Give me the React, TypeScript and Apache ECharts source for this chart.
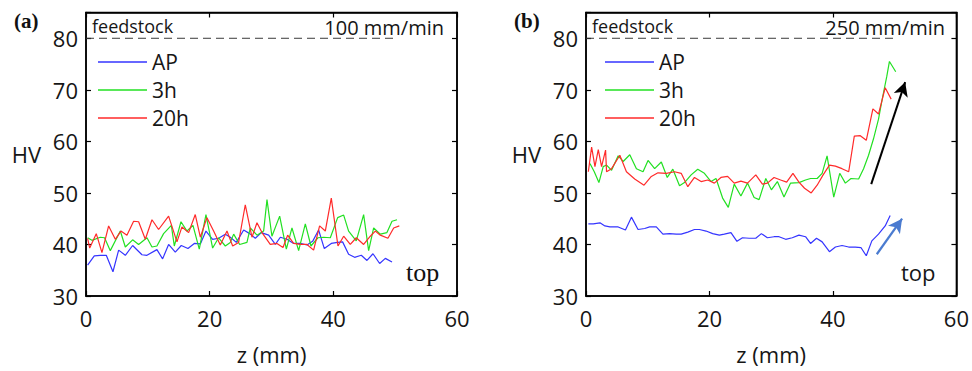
import React, { useEffect, useRef } from "react";
import * as echarts from "echarts";

// ---------- data (z in mm, hardness in HV) ----------
const xTicks = [0, 20, 40, 60];
const yTicks = [30, 40, 50, 60, 70, 80];
const feedstockLine: [number, number][] = [[0, 80], [50, 80]];

const a_AP: [number, number][] = [
  [0.26, 36.0], [1.34, 37.8], [2.31, 37.9], [3.28, 37.9], [4.36, 34.7], [5.28, 38.9], [6.36, 37.9],
  [7.54, 39.8], [9.05, 38.0], [9.86, 37.9], [11.47, 39.0], [12.39, 37.2], [13.36, 40.0], [14.44, 38.5],
  [15.41, 39.8], [16.49, 39.2], [17.52, 40.2], [18.49, 40.1], [19.4, 42.6], [20.48, 41.0], [21.45, 41.2],
  [22.53, 42.0], [23.34, 41.4], [24.31, 40.4], [25.5, 42.8], [26.47, 42.1], [27.38, 41.2], [28.35, 42.3],
  [29.54, 41.8], [30.62, 40.0], [31.43, 41.4], [32.5, 41.0], [33.58, 40.2], [34.66, 40.2], [35.74, 39.9],
  [36.65, 40.6], [37.62, 42.8], [38.54, 39.2], [39.67, 40.2], [40.69, 40.4], [41.5, 40.5], [42.47, 38.1],
  [43.44, 37.5], [44.52, 37.9], [45.44, 36.9], [46.41, 38.2], [47.49, 36.3], [48.41, 37.3], [49.49, 36.6],
];
const a_3h: [number, number][] = [
  [0.26, 41.3], [0.96, 40.8], [2.31, 41.4], [3.0, 41.3], [3.93, 38.8], [5.55, 42.6], [6.36, 39.5],
  [7.54, 40.9], [8.51, 40.0], [9.86, 41.3], [10.67, 39.5], [11.47, 39.7], [12.55, 42.1], [13.8, 43.7],
  [14.28, 39.7], [15.36, 44.4], [16.33, 42.6], [17.3, 43.7], [18.32, 39.1], [19.4, 45.8], [20.48, 39.3],
  [21.45, 41.3], [22.53, 39.7], [23.34, 40.4], [23.88, 42.0], [24.85, 40.0], [26.03, 40.4], [26.57, 43.2],
  [27.65, 41.8], [28.73, 42.6], [29.27, 48.7], [30.07, 41.6], [31.32, 45.5], [32.4, 39.1], [33.31, 43.2],
  [34.39, 38.8], [35.47, 44.0], [36.38, 39.7], [37.51, 41.3], [38.43, 41.4], [39.51, 41.3], [40.7, 45.2],
  [41.67, 45.7], [42.47, 42.6], [43.71, 40.7], [44.9, 45.8], [45.71, 38.8], [46.52, 43.2], [47.6, 42.0],
  [48.67, 42.3], [49.49, 44.5], [50.3, 44.8],
];
const a_20h: [number, number][] = [
  [0.26, 41.2], [0.6, 39.3], [1.66, 42.1], [2.58, 38.4], [3.66, 43.6], [4.74, 41.0], [5.65, 42.6],
  [6.62, 41.8], [7.7, 44.5], [8.51, 44.4], [9.59, 41.0], [10.67, 44.8], [11.74, 42.9], [13.36, 45.5],
  [14.71, 40.5], [15.52, 43.4], [16.6, 42.3], [17.67, 45.8], [18.49, 41.4], [19.56, 45.2], [20.64, 42.6],
  [21.72, 39.9], [22.8, 42.6], [23.72, 39.7], [24.68, 40.4], [25.76, 47.7], [26.84, 41.4], [27.65, 44.2],
  [28.46, 42.3], [29.8, 40.0], [30.88, 40.2], [31.86, 39.4], [32.61, 41.8], [33.58, 40.2], [34.66, 40.0],
  [35.74, 40.0], [36.81, 38.9], [37.78, 43.6], [38.7, 42.6], [39.67, 49.0], [40.75, 39.7], [41.67, 41.6],
  [42.74, 40.0], [43.71, 41.3], [44.9, 40.0], [45.98, 41.6], [46.79, 42.6], [47.6, 41.8], [48.83, 41.2],
  [49.76, 43.2], [50.67, 43.6],
];

const b_AP: [number, number][] = [
  [0.38, 44.0], [1.18, 44.0], [2.26, 44.2], [3.06, 43.6], [3.87, 43.4], [5.21, 43.4], [6.39, 42.8],
  [7.36, 45.3], [8.43, 42.9], [9.51, 43.1], [10.31, 43.4], [11.39, 43.4], [12.46, 42.0], [13.54, 42.1],
  [14.61, 42.0], [15.42, 42.0], [16.49, 42.4], [17.57, 42.9], [18.37, 42.9], [19.45, 42.6], [20.52, 42.1],
  [21.6, 41.8], [22.4, 42.0], [23.48, 42.3], [24.45, 40.6], [25.35, 41.3], [26.43, 41.2], [27.5, 41.2],
  [28.41, 42.1], [29.38, 41.3], [30.46, 41.5], [31.27, 41.5], [32.34, 41.0], [33.41, 41.3], [34.49, 41.8],
  [35.56, 41.5], [36.37, 40.2], [37.34, 41.2], [38.25, 40.5], [39.43, 38.6], [40.4, 39.5], [41.47, 39.8],
  [42.55, 39.5], [43.62, 39.5], [44.53, 39.4], [45.4, 37.8], [46.3, 40.7], [47.38, 42.0], [48.46, 43.6],
  [49.27, 45.6],
];
const b_3h: [number, number][] = [
  [0.64, 55.7], [1.34, 54.1], [2.09, 52.0], [2.79, 55.1], [3.33, 55.4], [4.14, 54.4], [5.21, 57.2],
  [6.02, 56.1], [7.09, 57.4], [8.17, 54.7], [9.24, 54.1], [10.05, 56.3], [11.12, 54.7], [12.2, 56.0],
  [13.16, 53.0], [14.07, 54.6], [15.15, 51.4], [15.95, 52.0], [17.03, 53.5], [18.1, 54.6], [19.18, 53.8],
  [20.26, 52.2], [21.06, 52.8], [22.13, 49.0], [23.05, 47.2], [24.01, 51.7], [25.09, 49.4], [26.16, 51.9],
  [27.23, 49.1], [28.04, 48.7], [29.12, 52.8], [30.03, 50.6], [31.0, 52.2], [32.07, 49.2], [33.14, 51.9],
  [34.49, 52.0], [35.56, 52.5], [36.37, 52.8], [37.44, 52.8], [38.25, 53.8], [39.05, 57.2], [40.13, 49.2],
  [41.1, 53.8], [42.01, 51.9], [42.92, 52.8], [44.16, 52.7], [44.96, 54.7], [45.77, 57.3], [46.57, 60.5],
  [47.38, 64.3], [48.08, 68.8], [48.72, 72.6], [49.15, 75.5], [50.17, 73.5],
];
const b_20h: [number, number][] = [
  [0.38, 54.1], [0.91, 58.9], [1.45, 55.1], [1.99, 58.4], [2.52, 55.1], [3.17, 58.3], [3.33, 54.1],
  [4.14, 54.7], [5.48, 57.3], [6.55, 54.1], [7.89, 52.7], [9.4, 51.5], [10.58, 53.2], [11.66, 53.9],
  [13.0, 53.8], [14.34, 54.1], [15.42, 53.8], [16.49, 51.2], [17.57, 53.0], [18.64, 52.2], [19.72, 52.5],
  [20.79, 51.9], [21.86, 53.0], [22.94, 53.2], [24.01, 51.9], [25.09, 52.3], [26.16, 51.9], [27.5, 53.5],
  [28.58, 51.7], [29.38, 51.9], [30.46, 53.0], [31.53, 52.5], [32.5, 52.1], [33.52, 53.8], [34.49, 52.1],
  [35.4, 50.9], [36.48, 50.0], [37.44, 51.5], [38.41, 53.5], [39.43, 55.4], [40.4, 55.2], [41.47, 54.7],
  [42.55, 54.1], [43.46, 61.0], [44.43, 61.1], [45.4, 60.2], [46.47, 66.3], [47.38, 65.3], [48.46, 70.4],
  [49.43, 68.2],
];

const blackArrow: [number, number][] = [[46.2, 51.7], [51.7, 71.5]];
const blueArrow: [number, number][] = [[47.1, 38.1], [51.2, 45.0]];

const seriesNames = ["AP", "3h", "20h"];
const seriesColors = ["#3535ff", "#22e022", "#ff2a2a"];
const panelLabels = ["(a)", "(b)"];
const speedLabels = ["100 mm/min", "250 mm/min"];

// ---------- layout ----------
const FONT = "'Open Sans', 'Noto Sans', sans-serif";
const SERIF = "'Liberation Serif', 'Times New Roman', serif";
const TXT = "#161616";
const grids = [
  { left: 86, top: 12.5, width: 371, height: 286.5 },
  { left: 586, top: 12.5, width: 372, height: 286.5 },
];

const tickStyle = { show: true, inside: true, length: 5, lineStyle: { color: "#000", width: 1.2 } };
const lineStyleAxis = { show: true, onZero: false, lineStyle: { color: "#000", width: 1.5 } };

function makeAxesX(gi: number) {
  const common = {
    gridIndex: gi,
    type: "value" as const,
    min: 0,
    max: 60,
    interval: 20,
    splitLine: { show: false },
    axisLine: lineStyleAxis,
    axisTick: tickStyle,
  };
  return [
    {
      ...common,
      position: "bottom",
      name: "z (mm)",
      nameLocation: "middle",
      nameGap: 46,
      nameTextStyle: { fontFamily: FONT, fontSize: 22, color: TXT, lineHeight: 24 },
      axisLabel: {
        fontFamily: FONT, fontSize: 22, color: TXT, margin: 11,
        formatter: (v: number) => (xTicks.includes(v) ? String(v) : ""),
      },
    },
    { ...common, position: "top", axisLabel: { show: false } },
  ];
}
function makeAxesY(gi: number) {
  const common = {
    gridIndex: gi,
    type: "value" as const,
    min: 30,
    max: 85,
    interval: 10,
    splitLine: { show: false },
    axisLine: lineStyleAxis,
    axisTick: tickStyle,
  };
  return [
    {
      ...common,
      position: "left",
      name: "HV",
      nameLocation: "middle",
      nameRotate: 0,
      nameGap: 45,
      nameTextStyle: { fontFamily: FONT, fontSize: 22, color: TXT, padding: [8, 0, 0, 0] },
      axisLabel: {
        fontFamily: FONT, fontSize: 22, color: TXT, margin: 8,
        formatter: (v: number) => (yTicks.includes(v) ? String(v) : ""),
      },
    },
    { ...common, position: "right", axisLabel: { show: false } },
  ];
}

function lineSeries(name: string, color: string, data: [number, number][], axis: number) {
  return {
    type: "line",
    name,
    data,
    xAxisIndex: axis,
    yAxisIndex: axis,
    showSymbol: false,
    symbol: "none",
    lineStyle: { color, width: 1.2 },
    itemStyle: { color },
    silent: true,
    z: 3,
  };
}

export default function App() {
  const ref = useRef<HTMLDivElement>(null);
  useEffect(() => {
    if (!ref.current) return;
    const chart = echarts.init(ref.current, undefined, { renderer: "svg" });
    const dataA = [a_AP, a_3h, a_20h];
    const dataB = [b_AP, b_3h, b_20h];
    const series: any[] = [];
    seriesNames.forEach((n, i) => series.push(lineSeries(n, seriesColors[i], dataA[i], 0)));
    seriesNames.forEach((n, i) => series.push(lineSeries(n, seriesColors[i], dataB[i], 2)));
    // feedstock reference line: bound to the top/right axes (same scales) so those axes are drawn too
    [1, 3].forEach((ax) => {
      series.push({
        type: "line",
        name: "feedstock",
        data: feedstockLine,
        xAxisIndex: ax,
        yAxisIndex: ax,
        showSymbol: false,
        symbol: "none",
        silent: true,
        lineStyle: { color: "#3a3a3a", width: 1, type: [8, 5] },
        z: 2,
        markLine:
          ax === 3
            ? {
                silent: true,
                symbol: ["none", "arrow"],
                symbolSize: [11, 14],
                label: { show: false },
                animation: false,
                data: [
                  [
                    { coord: blackArrow[0], lineStyle: { color: "#000", width: 2, type: "solid" } },
                    { coord: blackArrow[1] },
                  ],
                  [
                    { coord: blueArrow[0], lineStyle: { color: "#4a7bd0", width: 2.2, type: "solid" } },
                    { coord: blueArrow[1] },
                  ],
                ],
              }
            : undefined,
      });
    });

    const legendCommon = {
      orient: "vertical",
      top: 48,
      padding: 0,
      itemGap: 0,
      itemWidth: 49,
      itemHeight: 1.4,
      icon: "rect",
      data: seriesNames,
      selectedMode: false,
      textStyle: { fontFamily: FONT, fontSize: 21, color: TXT, lineHeight: 28 },
    };

    const textEls: any[] = [];
    grids.forEach((g, i) => {
      textEls.push({
        type: "text",
        left: i === 0 ? 14 : 514,
        top: 10,
        style: { text: panelLabels[i], fontFamily: SERIF, fontWeight: "bold", fontSize: 21, fill: "#111" },
      });
      textEls.push({
        type: "text",
        x: g.left + 6,
        y: 26,
        style: {
          text: "feedstock",
          fontFamily: FONT,
          fontSize: 18,
          fill: TXT,
          textAlign: "left",
          textVerticalAlign: "middle",
        },
      });
      textEls.push({
        type: "text",
        x: i === 0 ? 444 : 945,
        y: 27,
        style: {
          text: speedLabels[i],
          fontFamily: FONT,
          fontSize: 20,
          fill: TXT,
          textAlign: "right",
          textVerticalAlign: "middle",
        },
      });
    });
    textEls.push({
      type: "text",
      x: 406,
      y: 272,
      style: {
        text: "top",
        fontFamily: SERIF,
        fontWeight: "normal",
        fontSize: 26,
        fill: "#111",
        textAlign: "left",
        textVerticalAlign: "middle",
      },
    });
    textEls.push({
      type: "text",
      x: 901,
      y: 272,
      style: {
        text: "top",
        fontFamily: FONT,
        fontSize: 22,
        fill: TXT,
        textAlign: "left",
        textVerticalAlign: "middle",
      },
    });

    chart.setOption({
      animation: false,
      backgroundColor: "#fff",
      grid: grids.map((g) => ({
        ...g,
        show: true,
        borderColor: "#000",
        borderWidth: 1.5,
        backgroundColor: "transparent",
        containLabel: false,
      })),
      xAxis: [...makeAxesX(0), ...makeAxesX(1)],
      yAxis: [...makeAxesY(0), ...makeAxesY(1)],
      legend: [
        { ...legendCommon, left: 98 },
        { ...legendCommon, left: 605 },
      ],
      series,
      graphic: textEls,
    });
    return () => chart.dispose();
  }, []);
  return (
    <div
      ref={ref}
      style={{ position: "absolute", left: 0, top: 0, width: 972, height: 371, background: "#fff" }}
    />
  );
}
